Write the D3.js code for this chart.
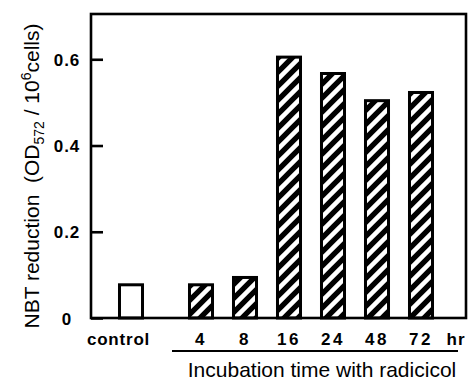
<!DOCTYPE html>
<html>
<head>
<meta charset="utf-8">
<script src="https://cdn.jsdelivr.net/npm/d3@7"></script>
<style>
  html, body { margin: 0; padding: 0; background: #fff; }
  svg { display: block; font-family: "Liberation Sans", Arial, Helvetica, sans-serif; }
</style>
</head>
<body>
<svg id="chart" width="468" height="384"></svg>
<script>
// ---- data ----
const controlLabel = ["control"];
const controlValue = [0.077];
const hours = ["4", "8", "16", "24", "48", "72"];
const hourValues = [0.077, 0.094, 0.605, 0.567, 0.504, 0.523];
const yTicks = [0, 0.2, 0.4, 0.6];

// ---- layout ----
const plotLeft = 91, plotRight = 466, plotTop = 14, plotBottom = 318;

const svg = d3.select("#chart");

const y = d3.scaleLinear().domain([0, 0.705]).range([plotBottom, plotTop]);
const xHours = d3.scaleBand().domain(hours).range([179, 443]).paddingInner(0.477).paddingOuter(0.2385);
const xCtrl = d3.scaleBand().domain(controlLabel).range([109, 153]).paddingInner(0.477).paddingOuter(0.2385);

// hatch pattern
const defs = svg.append("defs");
const P = 14;
const pat = defs.append("pattern")
  .attr("id", "hatch")
  .attr("patternUnits", "userSpaceOnUse")
  .attr("width", P).attr("height", P);
pat.append("rect").attr("width", P).attr("height", P).attr("fill", "#fff");
pat.append("path")
  .attr("d", `M0,${P} L${P},0 M${-P/2},${P/2} L${P/2},${-P/2} M${P/2},${P*1.5} L${P*1.5},${P/2}`)
  .attr("stroke", "#000").attr("stroke-width", 5.4);

// bars
svg.append("g").selectAll("rect")
  .data(controlLabel.map((c, i) => ({k: c, v: controlValue[i]})))
  .join("rect")
  .attr("x", d => xCtrl(d.k))
  .attr("width", xCtrl.bandwidth())
  .attr("y", d => y(d.v))
  .attr("height", d => plotBottom - y(d.v))
  .attr("fill", "#fff")
  .attr("stroke", "#000")
  .attr("stroke-width", 3);

svg.append("g").selectAll("rect")
  .data(hours.map((h, i) => ({k: h, v: hourValues[i]})))
  .join("rect")
  .attr("x", d => xHours(d.k))
  .attr("width", xHours.bandwidth())
  .attr("y", d => y(d.v))
  .attr("height", d => plotBottom - y(d.v))
  .attr("fill", "url(#hatch)")
  .attr("stroke", "#000")
  .attr("stroke-width", 3);

// frame
svg.append("rect")
  .attr("x", plotLeft).attr("y", plotTop)
  .attr("width", plotRight - plotLeft).attr("height", plotBottom - plotTop)
  .attr("fill", "none").attr("stroke", "#000").attr("stroke-width", 2.6);

// y axis
const yAxis = svg.append("g")
  .attr("transform", `translate(${plotLeft},0)`)
  .call(d3.axisLeft(y).tickValues(yTicks).tickSize(-12)
    .tickFormat(d => d === 0 ? "0" : d3.format(".1f")(d)));
yAxis.select(".domain").remove();
yAxis.selectAll(".tick line").attr("stroke", "#000").attr("stroke-width", 2.6);
yAxis.selectAll(".tick text")
  .attr("x", -24).attr("dy", "0.36em")
  .attr("text-anchor", "middle")
  .attr("fill", "#000")
  .style("font-family", "'Liberation Sans', Arial, sans-serif")
  .style("font-size", "17px").style("font-weight", "bold")
  .style("letter-spacing", "1px");

// x axis (hours)
const xAxis = svg.append("g")
  .attr("transform", `translate(0,${plotBottom})`)
  .call(d3.axisBottom(xHours).tickSize(0));
xAxis.select(".domain").remove();
xAxis.selectAll(".tick text")
  .attr("y", 27).attr("dy", 0)
  .attr("fill", "#000")
  .style("font-family", "'Liberation Sans', Arial, sans-serif")
  .style("font-size", "17px").style("font-weight", "bold")
  .style("letter-spacing", "2.5px");

// control label
svg.append("text")
  .attr("x", 118.5).attr("y", 345)
  .attr("text-anchor", "middle")
  .style("font-size", "17px").style("font-weight", "bold")
  .style("letter-spacing", "0.8px")
  .text(controlLabel[0]);

// hr label
svg.append("text")
  .attr("x", 456).attr("y", 345)
  .attr("text-anchor", "middle")
  .style("font-size", "17px").style("font-weight", "bold")
  .style("letter-spacing", "1px")
  .text("hr");

// underline
svg.append("line")
  .attr("x1", 172).attr("x2", 458)
  .attr("y1", 351).attr("y2", 351)
  .attr("stroke", "#000").attr("stroke-width", 2);

// x title
svg.append("text")
  .attr("x", 322).attr("y", 377)
  .attr("text-anchor", "middle")
  .style("font-size", "21px")
  .text("Incubation time with radicicol");

// y title
const yt = svg.append("text")
  .attr("transform", `translate(39,${(plotTop + plotBottom) / 2 + 10}) rotate(-90)`)
  .attr("text-anchor", "middle")
  .style("white-space", "pre")
  .style("font-size", "21px");
yt.append("tspan").text("NBT reduction  (OD");
yt.append("tspan").attr("dy", 5).style("font-size", "14px").text("572");
yt.append("tspan").attr("dy", -5).text(" / 10");
yt.append("tspan").attr("dy", -8).style("font-size", "14px").text("6");
yt.append("tspan").attr("dy", 8).text("cells)");
</script>
</body>
</html>
